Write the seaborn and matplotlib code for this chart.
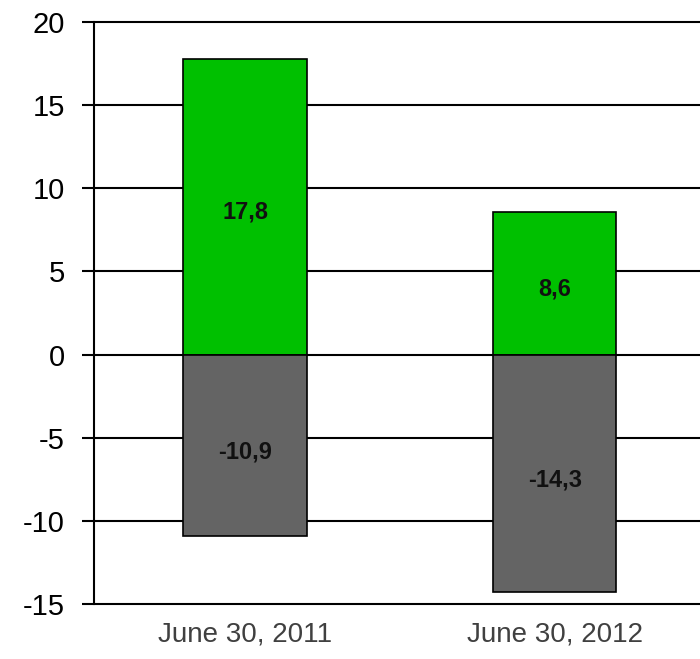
import matplotlib
matplotlib.use('Agg')
import matplotlib.pyplot as plt
import seaborn as sns

sns.set_style("white")
plt.rcParams['font.family'] = ['Liberation Sans', 'DejaVu Sans']
plt.rcParams['axes.unicode_minus'] = False

# ── Data ─────────────────────────────────────────────────────
dates    = ['June 30, 2011', 'June 30, 2012']
positive = [17.8, 8.6]
negative = [-10.9, -14.3]

# ── Chart ────────────────────────────────────────────────────
fig = plt.figure(figsize=(7, 6.59), dpi=100)
ax = fig.add_axes([0.134, 0.0835, 0.866, 0.883])

sns.barplot(x=dates, y=positive, color='#00C000', edgecolor='black',
            linewidth=1.2, width=0.4, saturation=1, ax=ax)
sns.barplot(x=dates, y=negative, color='#646464', edgecolor='black',
            linewidth=1.2, width=0.4, saturation=1, ax=ax)

for i, (p, n) in enumerate(zip(positive, negative)):
    ax.text(i, p / 2 - 0.35, f"{p:.1f}".replace('.', ','), ha='center', va='center',
            fontsize=17, fontweight='bold', color='#111111')
    ax.text(i, n / 2 - 0.4, f"{n:.1f}".replace('.', ','), ha='center', va='center',
            fontsize=17, fontweight='bold', color='#111111')

ax.set_ylim(-15, 20)
ax.set_xlim(-0.49, 1.47)
ax.set_yticks(range(-15, 21, 5))
ax.yaxis.grid(True, color='black', linewidth=1.5)
for gl in ax.get_ygridlines():
    gl.set_clip_on(False)
ax.set_axisbelow(True)

for side in ['top', 'right', 'bottom']:
    ax.spines[side].set_visible(False)
ax.spines['left'].set_color('black')
ax.spines['left'].set_linewidth(1.5)

ax.tick_params(axis='y', which='major', left=True, length=9, width=1.5,
               labelsize=21, color='black', labelcolor='black', pad=12)
ax.tick_params(axis='x', bottom=False, labelsize=20, labelcolor='#404040', pad=9)
ax.set_xlabel('')
ax.set_ylabel('')

plt.savefig('out.png', dpi=100)
plt.close()
